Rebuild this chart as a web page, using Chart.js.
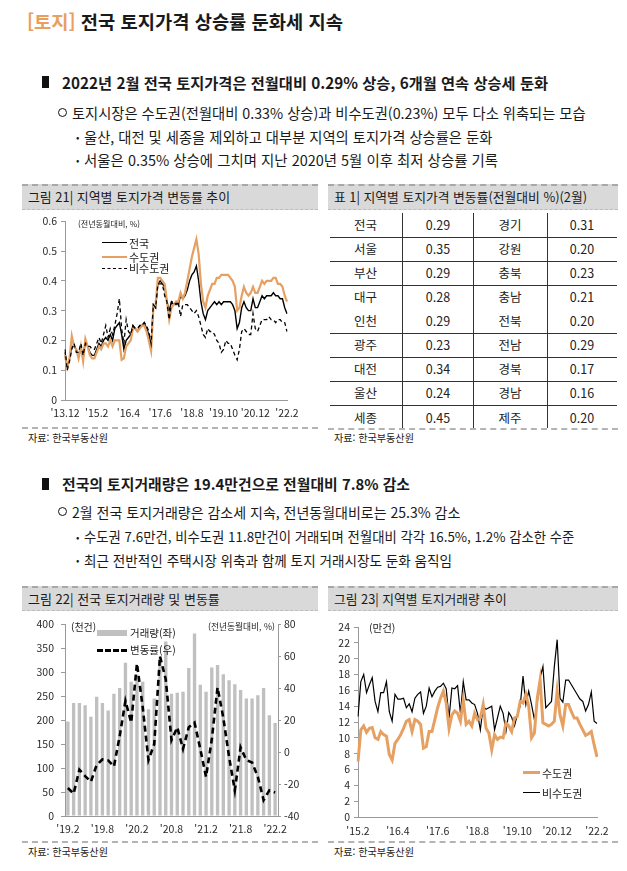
<!DOCTYPE html>
<html lang="ko"><head><meta charset="utf-8">
<script src="https://cdn.jsdelivr.net/npm/chart.js@4.4.1/dist/chart.umd.min.js"></script>
<style>
html,body{margin:0;padding:0;background:#fff}
body{width:627px;height:871px;position:relative;overflow:hidden;font-family:"Noto Sans CJK KR","Noto Sans",sans-serif;color:#1a1a1a}
.t{position:absolute;white-space:nowrap;line-height:20px;height:20px}
.band{position:absolute;background:#d9d9d9;border-top:2px dashed #a8a8a8;border-bottom:1px dashed #bcbcbc}
.band .t{left:6px}
.foot{position:absolute;height:0;border-top:2px dashed #b4b4b4}
.sq{position:absolute;width:7px;height:12px;background:#111}
.ci{position:absolute;width:7px;height:7px;border:1.6px solid #111;border-radius:50%}
canvas{position:absolute}
.ov{position:absolute;z-index:5}
.ln{position:absolute;z-index:5;height:0}
.cell{position:absolute;width:70px;margin-left:-35px;text-align:center;font-size:12.5px;line-height:20px;color:#222}
.hr{position:absolute;height:0;border-top:1px solid #333}
.vr{position:absolute;width:0;border-left:1px solid #333}
</style></head><body>

<div class="t" style="left:27px;top:11px;font-size:19px;font-weight:700" data-w="316"><span style="color:#E8A060">[토지]</span> 전국 토지가격 상승률 둔화세 지속</div>

<div class="sq" style="left:42px;top:76px"></div>
<div class="t" style="left:62px;top:72px;font-size:14.5px;font-weight:700" data-w="486">2022년 2월 전국 토지가격은 전월대비 0.29% 상승, 6개월 연속 상승세 둔화</div>
<div class="ci" style="left:58px;top:108px"></div>
<div class="t" style="left:72px;top:103px;font-size:13px" data-w="514">토지시장은 수도권(전월대비 0.33% 상승)과 비수도권(0.23%) 모두 다소 위축되는 모습</div>
<div class="t" style="left:76px;top:127px;font-size:10px">•</div>
<div class="t" style="left:84px;top:127px;font-size:13px" data-w="408">울산, 대전 및 세종을 제외하고 대부분 지역의 토지가격 상승률은 둔화</div>
<div class="t" style="left:76px;top:150px;font-size:10px">•</div>
<div class="t" style="left:84px;top:150px;font-size:13px" data-w="414">서울은 0.35% 상승에 그치며 지난 2020년 5월 이후 최저 상승률 기록</div>

<div class="sq" style="left:42px;top:478px"></div>
<div class="t" style="left:62px;top:474px;font-size:14.5px;font-weight:700" data-w="348">전국의 토지거래량은 19.4만건으로 전월대비 7.8% 감소</div>
<div class="ci" style="left:58px;top:507px"></div>
<div class="t" style="left:72px;top:502px;font-size:13px" data-w="388">2월 전국 토지거래량은 감소세 지속, 전년동월대비로는 25.3% 감소</div>
<div class="t" style="left:76px;top:527px;font-size:10px">•</div>
<div class="t" style="left:84px;top:527px;font-size:13px" data-w="490">수도권 7.6만건, 비수도권 11.8만건이 거래되며 전월대비 각각 16.5%, 1.2% 감소한 수준</div>
<div class="t" style="left:76px;top:550px;font-size:10px">•</div>
<div class="t" style="left:84px;top:550px;font-size:13px" data-w="368">최근 전반적인 주택시장 위축과 함께 토지 거래시장도 둔화 움직임</div>

<!-- Figure 21 box -->
<div class="band" style="left:22px;top:184px;width:296px;height:23px"><div class="t" style="top:1px;font-size:12.5px" data-w="202">그림 21| 지역별 토지가격 변동률 추이</div></div>
<canvas id="c21" width="296" height="214" style="left:22px;top:211px;width:296px;height:214px"></canvas>
<div class="ov t" style="left:78px;top:214px;font-size:9.5px;color:#222" data-w="62">(전년동월대비, %)</div>
<div class="ln" style="left:102px;top:242px;width:25px;border-top:1.5px solid #000"></div>
<div class="ov t" style="left:129px;top:233px;font-size:11px">전국</div>
<div class="ln" style="left:102px;top:256px;width:25px;border-top:2.2px solid #E5A062"></div>
<div class="ov t" style="left:129px;top:247px;font-size:11px">수도권</div>
<div class="ln" style="left:102px;top:268px;width:25px;border-top:1.5px dashed #000"></div>
<div class="ov t" style="left:129px;top:258px;font-size:11px">비수도권</div>
<div class="foot" style="left:22px;top:427px;width:296px"></div>
<div class="t" style="left:28px;top:428px;font-size:11px" data-w="80">자료: 한국부동산원</div>

<!-- Table 1 box -->
<div class="band" style="left:328px;top:184px;width:290px;height:23px"><div class="t" style="top:1px;font-size:12.5px" data-w="253">표 1| 지역별 토지가격 변동률(전월대비 %)(2월)</div></div>
<div id="tbl"></div>
<div class="foot" style="left:328px;top:428px;width:290px"></div>
<div class="t" style="left:334px;top:428px;font-size:11px" data-w="80">자료: 한국부동산원</div>

<!-- Figure 22 box -->
<div class="band" style="left:22px;top:586px;width:296px;height:22px"><div class="t" style="top:1px;font-size:12.5px" data-w="192">그림 22| 전국 토지거래량 및 변동률</div></div>
<canvas id="c22" width="296" height="229" style="left:22px;top:611px;width:296px;height:229px"></canvas>
<div class="ov t" style="left:71px;top:617px;font-size:10px">(천건)</div>
<div class="ov" style="left:97px;top:630px;width:30px;height:6px;background:#c0c0c0"></div>
<div class="ov t" style="left:130px;top:623px;font-size:10.5px">거래량(좌)</div>
<div class="ln" style="left:97px;top:649px;width:30px;border-top:3px dashed #000"></div>
<div class="ov t" style="left:130px;top:640px;font-size:10.5px">변동률(우)</div>
<div class="ov t" style="left:208px;top:617px;font-size:10px" data-w="67">(전년동월대비, %)</div>
<div class="foot" style="left:22px;top:841px;width:296px"></div>
<div class="t" style="left:28px;top:842px;font-size:11px" data-w="80">자료: 한국부동산원</div>

<!-- Figure 23 box -->
<div class="band" style="left:328px;top:586px;width:290px;height:22px"><div class="t" style="top:1px;font-size:12.5px" data-w="173">그림 23| 지역별 토지거래량 추이</div></div>
<canvas id="c23" width="290" height="229" style="left:328px;top:611px;width:290px;height:229px"></canvas>
<div class="ov t" style="left:369px;top:618px;font-size:10.5px">(만건)</div>
<div class="ln" style="left:523px;top:771px;width:17px;border-top:3px solid #E5A062"></div>
<div class="ov t" style="left:542px;top:763px;font-size:11px">수도권</div>
<div class="ln" style="left:523px;top:792px;width:17px;border-top:1.3px solid #000"></div>
<div class="ov t" style="left:542px;top:783px;font-size:11px">비수도권</div>
<div class="foot" style="left:328px;top:841px;width:290px"></div>
<div class="t" style="left:334px;top:842px;font-size:11px" data-w="80">자료: 한국부동산원</div>

<script>
// ---------- DATA ----------
// Figure 21: land price change by region (YoY-month basis, %), '13.12 ~ '22.2
const ticks21 = ["'13.12","'15.2","'16.4","'17.6","'18.8","'19.10","'20.12","'22.2"];
const nation21 = [0.16,0.11,0.14,0.18,0.18,0.17,0.15,0.18,0.14,0.20,
 0.18,0.16,0.15,0.15,0.17,0.19,0.18,0.20,0.21,0.20,
 0.22,0.20,0.24,0.25,0.26,0.22,0.17,0.20,0.21,0.22,
 0.25,0.24,0.23,0.25,0.25,0.26,0.24,0.22,0.18,0.32,
 0.31,0.39,0.40,0.39,0.38,0.33,0.30,0.33,0.32,0.33,
 0.32,0.35,0.34,0.35,0.37,0.40,0.42,0.43,0.45,0.40,
 0.33,0.29,0.27,0.30,0.31,0.32,0.33,0.32,0.33,0.32,
 0.33,0.33,0.33,0.33,0.32,0.30,0.24,0.26,0.31,0.33,
 0.31,0.30,0.30,0.34,0.31,0.31,0.33,0.35,0.34,0.35,
 0.35,0.35,0.36,0.35,0.35,0.34,0.34,0.31,0.29];
const capital21 = [0.15,0.11,0.14,0.215,0.18,0.17,0.14,0.18,0.13,0.205,
 0.18,0.15,0.14,0.14,0.16,0.18,0.17,0.19,0.19,0.18,
 0.20,0.18,0.20,0.20,0.20,0.135,0.14,0.18,0.19,0.20,
 0.24,0.24,0.23,0.24,0.25,0.25,0.23,0.20,0.165,0.31,
 0.32,0.41,0.41,0.40,0.39,0.33,0.27,0.31,0.32,0.33,
 0.33,0.36,0.34,0.36,0.40,0.44,0.48,0.51,0.54,0.49,
 0.39,0.33,0.31,0.35,0.37,0.39,0.39,0.41,0.41,0.42,
 0.42,0.42,0.42,0.41,0.40,0.38,0.30,0.31,0.35,0.38,
 0.36,0.35,0.36,0.38,0.36,0.36,0.38,0.40,0.39,0.40,
 0.40,0.40,0.41,0.41,0.39,0.39,0.38,0.35,0.33];
const nonCapital21 = [0.17,0.10,0.13,0.17,0.19,0.16,0.16,0.19,0.15,0.19,
 0.18,0.18,0.17,0.17,0.19,0.21,0.19,0.22,0.25,0.21,
 0.24,0.22,0.25,0.29,0.34,0.24,0.19,0.27,0.23,0.22,
 0.25,0.24,0.24,0.25,0.25,0.26,0.25,0.23,0.19,0.32,
 0.31,0.39,0.39,0.39,0.35,0.33,0.27,0.33,0.33,0.32,
 0.33,0.28,0.32,0.32,0.32,0.31,0.30,0.29,0.30,0.28,
 0.25,0.22,0.21,0.24,0.23,0.23,0.22,0.20,0.19,0.16,
 0.17,0.20,0.19,0.19,0.17,0.15,0.135,0.17,0.23,0.24,
 0.23,0.22,0.22,0.29,0.24,0.23,0.25,0.27,0.27,0.27,
 0.28,0.27,0.27,0.26,0.27,0.27,0.26,0.26,0.23];

// Table 1: Feb change by region (MoM, %)
const regionsLeft = ['전국','서울','부산','대구','인천','광주','대전','울산','세종'];
const ratesLeft = [0.29,0.35,0.29,0.28,0.29,0.23,0.34,0.24,0.45];
const regionsRight = ['경기','강원','충북','충남','전북','전남','경북','경남','제주'];
const ratesRight = [0.31,0.20,0.23,0.21,0.20,0.29,0.17,0.16,0.20];

// Figure 22: national land transactions (thousand) and YoY change (%), '19.2 ~ '22.2
const ticks22 = ["'19.2","'19.8","'20.2","'20.8","'21.2","'21.8","'22.2"];
const volume22 = [197,236,236,231,207,249,236,220,255,267,320,280,295,280,223,245,330,364,
 255,257,259,309,381,274,259,310,315,296,283,275,263,245,245,252,267,210,194];
const yoy22 = [-22.5,-26,-11,-15,-18.5,-8,-4.6,-5.2,-9,10,32,18.5,55.5,28,-5,5,60,45.5,
 7.5,15.5,2,15.5,18.5,2,-15.5,8,40.5,21.5,-3,-24,3,-5,-6.5,-15.5,-30,-24,-25.3];

// Figure 23: land transactions by region (10 thousand), '15.2 ~ '22.2
const ticks23 = ["'15.2","'16.4","'17.6","'18.8","'19.10","'20.12","'22.2"];
const capital23 = [7.0,11.0,11.5,10.7,11.2,11.3,10.0,9.8,10.8,10.4,
 10.2,7.9,7.2,9.3,9.8,10.4,11.2,12.1,12.3,10.8,
 12.3,12.1,11.7,8.7,8.9,10.8,10.8,12.3,13.8,15.0,
 15.9,14.4,11.2,12.9,13.4,13.1,12.1,14.8,11.7,12.1,
 11.5,13.1,12.3,12.5,14.2,11.2,10.6,8.5,10.4,9.8,
 10.1,10.0,11.9,11.5,10.8,12.5,12.7,14.6,14.4,15.5,
 14.0,10.0,10.6,15.0,17.3,11.9,11.7,11.5,11.7,12.1,
 15.9,12.9,11.5,14.2,14.2,13.3,12.5,12.5,11.7,11.0,
 10.3,10.5,10.8,9.1,7.6];
const nonCapital23 = [12.7,17.1,18.0,15.7,16.7,17.6,14.6,13.3,15.7,15.7,
 17.1,13.3,12.1,15.5,14.9,14.9,15.0,13.8,14.3,13.3,
 15.0,15.5,15.8,13.1,14.0,16.3,15.2,15.9,16.4,16.5,
 16.9,16.2,12.5,16.3,16.2,16.6,13.1,17.1,14.8,14.8,
 14.4,14.2,13.1,11.0,14.0,13.6,13.8,14.0,11.0,12.5,
 14.0,13.1,10.8,13.2,12.6,11.5,12.9,14.0,17.8,14.2,
 15.9,14.2,12.3,14.4,17.6,19.0,13.8,14.2,14.6,19.0,
 22.4,15.0,14.5,17.3,17.3,16.7,16.1,15.5,14.9,14.6,
 13.4,14.2,15.8,12.1,11.8];

// ---------- helpers ----------
function monthLabels(y, m, n){
  const out=[];
  for(let k=0;k<n;k++){ out.push("'"+String(y%100).padStart(2,'0')+"."+m); m++; if(m>12){m=1;y++;} }
  return out;
}
const months21 = monthLabels(2013,12,nation21.length);
const months22 = monthLabels(2019,2,volume22.length);
const months23 = monthLabels(2015,2,capital23.length);

const ORANGE = '#E5A062';
const AXIS = '#9a9a9a';
Chart.defaults.font.family = '"Noto Sans CJK KR","Noto Sans",sans-serif';
Chart.defaults.font.size = 10.5;
Chart.defaults.color = '#2a2a2a';
Chart.defaults.animation = false;

function catTicks(labels, shown, pad){
  return {autoSkip:false, maxRotation:0, minRotation:0, padding:pad,
    callback:(v,i)=> shown.includes(labels[i]) ? labels[i] : null};
}
const noPlugins = {legend:{display:false}, tooltip:{enabled:false}};

// ---------- Figure 21 ----------
new Chart(document.getElementById('c21'), {
  type:'line',
  data:{labels:months21, datasets:[
    {data:nonCapital21, borderColor:'#000', borderWidth:1.3, borderDash:[4,3], pointRadius:0, tension:0},
    {data:capital21, borderColor:ORANGE, borderWidth:2.2, pointRadius:0, tension:0},
    {data:nation21, borderColor:'#000', borderWidth:1.4, pointRadius:0, tension:0}
  ]},
  options:{responsive:false, layout:{padding:{top:7,right:31,left:0,bottom:0}}, plugins:noPlugins,
    scales:{
      x:{offset:false, grid:{drawOnChartArea:false, drawTicks:false}, border:{color:AXIS},
         ticks:catTicks(months21, ticks21, 7), afterFit(s){s.height=25;}},
      y:{min:0, max:0.6, grid:{drawOnChartArea:false, tickLength:4, color:AXIS}, border:{color:AXIS},
         ticks:{stepSize:0.1, padding:4, callback:v=> Math.abs(v)<1e-9 ? '0' : v.toFixed(1)},
         afterFit(s){s.width=43;}}
    }}
});

// ---------- Figure 22 ----------
new Chart(document.getElementById('c22'), {
  data:{labels:months22, datasets:[
    {type:'line', data:yoy22, yAxisID:'y1', borderColor:'#000', borderWidth:2.6, borderDash:[6,4], pointRadius:0, tension:0, order:0},
    {type:'bar', data:volume22, yAxisID:'y', backgroundColor:'#c0c0c0', barPercentage:0.58, categoryPercentage:1, order:1}
  ]},
  options:{responsive:false, layout:{padding:{top:12,right:0,left:0,bottom:0}}, plugins:noPlugins,
    scales:{
      x:{offset:true, grid:{drawOnChartArea:false, drawTicks:false}, border:{color:AXIS},
         ticks:catTicks(months22, ticks22, 7), afterFit(s){s.height=24;}},
      y:{position:'left', min:0, max:400, grid:{drawOnChartArea:false, tickLength:4, color:AXIS}, border:{color:AXIS},
         ticks:{stepSize:50, padding:7}, afterFit(s){s.width=43;}},
      y1:{position:'right', min:-40, max:80, grid:{drawOnChartArea:false, tickLength:3, color:AXIS}, border:{color:AXIS},
         ticks:{stepSize:20, padding:3}, afterFit(s){s.width=40;}}
    }}
});

// ---------- Figure 23 ----------
new Chart(document.getElementById('c23'), {
  type:'line',
  data:{labels:months23, datasets:[
    {data:capital23, borderColor:ORANGE, borderWidth:3, pointRadius:0, tension:0},
    {data:nonCapital23, borderColor:'#000', borderWidth:1.2, pointRadius:0, tension:0}
  ]},
  options:{responsive:false, layout:{padding:{top:16,right:21,left:0,bottom:0}}, plugins:noPlugins,
    scales:{
      x:{offset:false, grid:{drawOnChartArea:false, drawTicks:false}, border:{color:AXIS},
         ticks:catTicks(months23, ticks23, 8), afterFit(s){s.height=23;}},
      y:{min:0, max:24, grid:{drawOnChartArea:false, tickLength:4, color:AXIS}, border:{color:AXIS},
         ticks:{stepSize:2, padding:4}, afterFit(s){s.width=30;}}
    }}
});

// ---------- Table 1 ----------
(function(){
  const host = document.getElementById('tbl');
  const rowTop = 212.5, rowH = 24.12;
  const colX = [365.5, 438, 510, 582];
  function add(cls, style, txt){ const d=document.createElement('div'); d.className=cls; d.setAttribute('style',style); if(txt!==undefined) d.textContent=txt; host.appendChild(d); }
  for(let r=0;r<regionsLeft.length;r++){
    const cy = rowTop + rowH*(r+0.5);
    const cells = [regionsLeft[r], ratesLeft[r].toFixed(2), regionsRight[r], ratesRight[r].toFixed(2)];
    cells.forEach((c,k)=> add('cell', `left:${colX[k]}px;top:${cy-10}px`, c));
    if(r < regionsLeft.length-1 && r !== 3) add('hr', `left:330px;width:287px;top:${rowTop+rowH*(r+1)}px`);
  }
  [402,473,547].forEach(x=> add('vr', `left:${x}px;top:213px;height:215px`));
})();

// ---------- fit text widths ----------
function fitAll(){
  document.querySelectorAll('[data-w]').forEach(el=>{
    const w = el.getBoundingClientRect().width;
    const fs = parseFloat(getComputedStyle(el).fontSize);
    if(w>0) el.style.fontSize = (fs * (+el.dataset.w) / w) + 'px';
  });
}
fitAll();
if(document.fonts && document.fonts.ready) document.fonts.ready.then(fitAll);
</script>
</body></html>
